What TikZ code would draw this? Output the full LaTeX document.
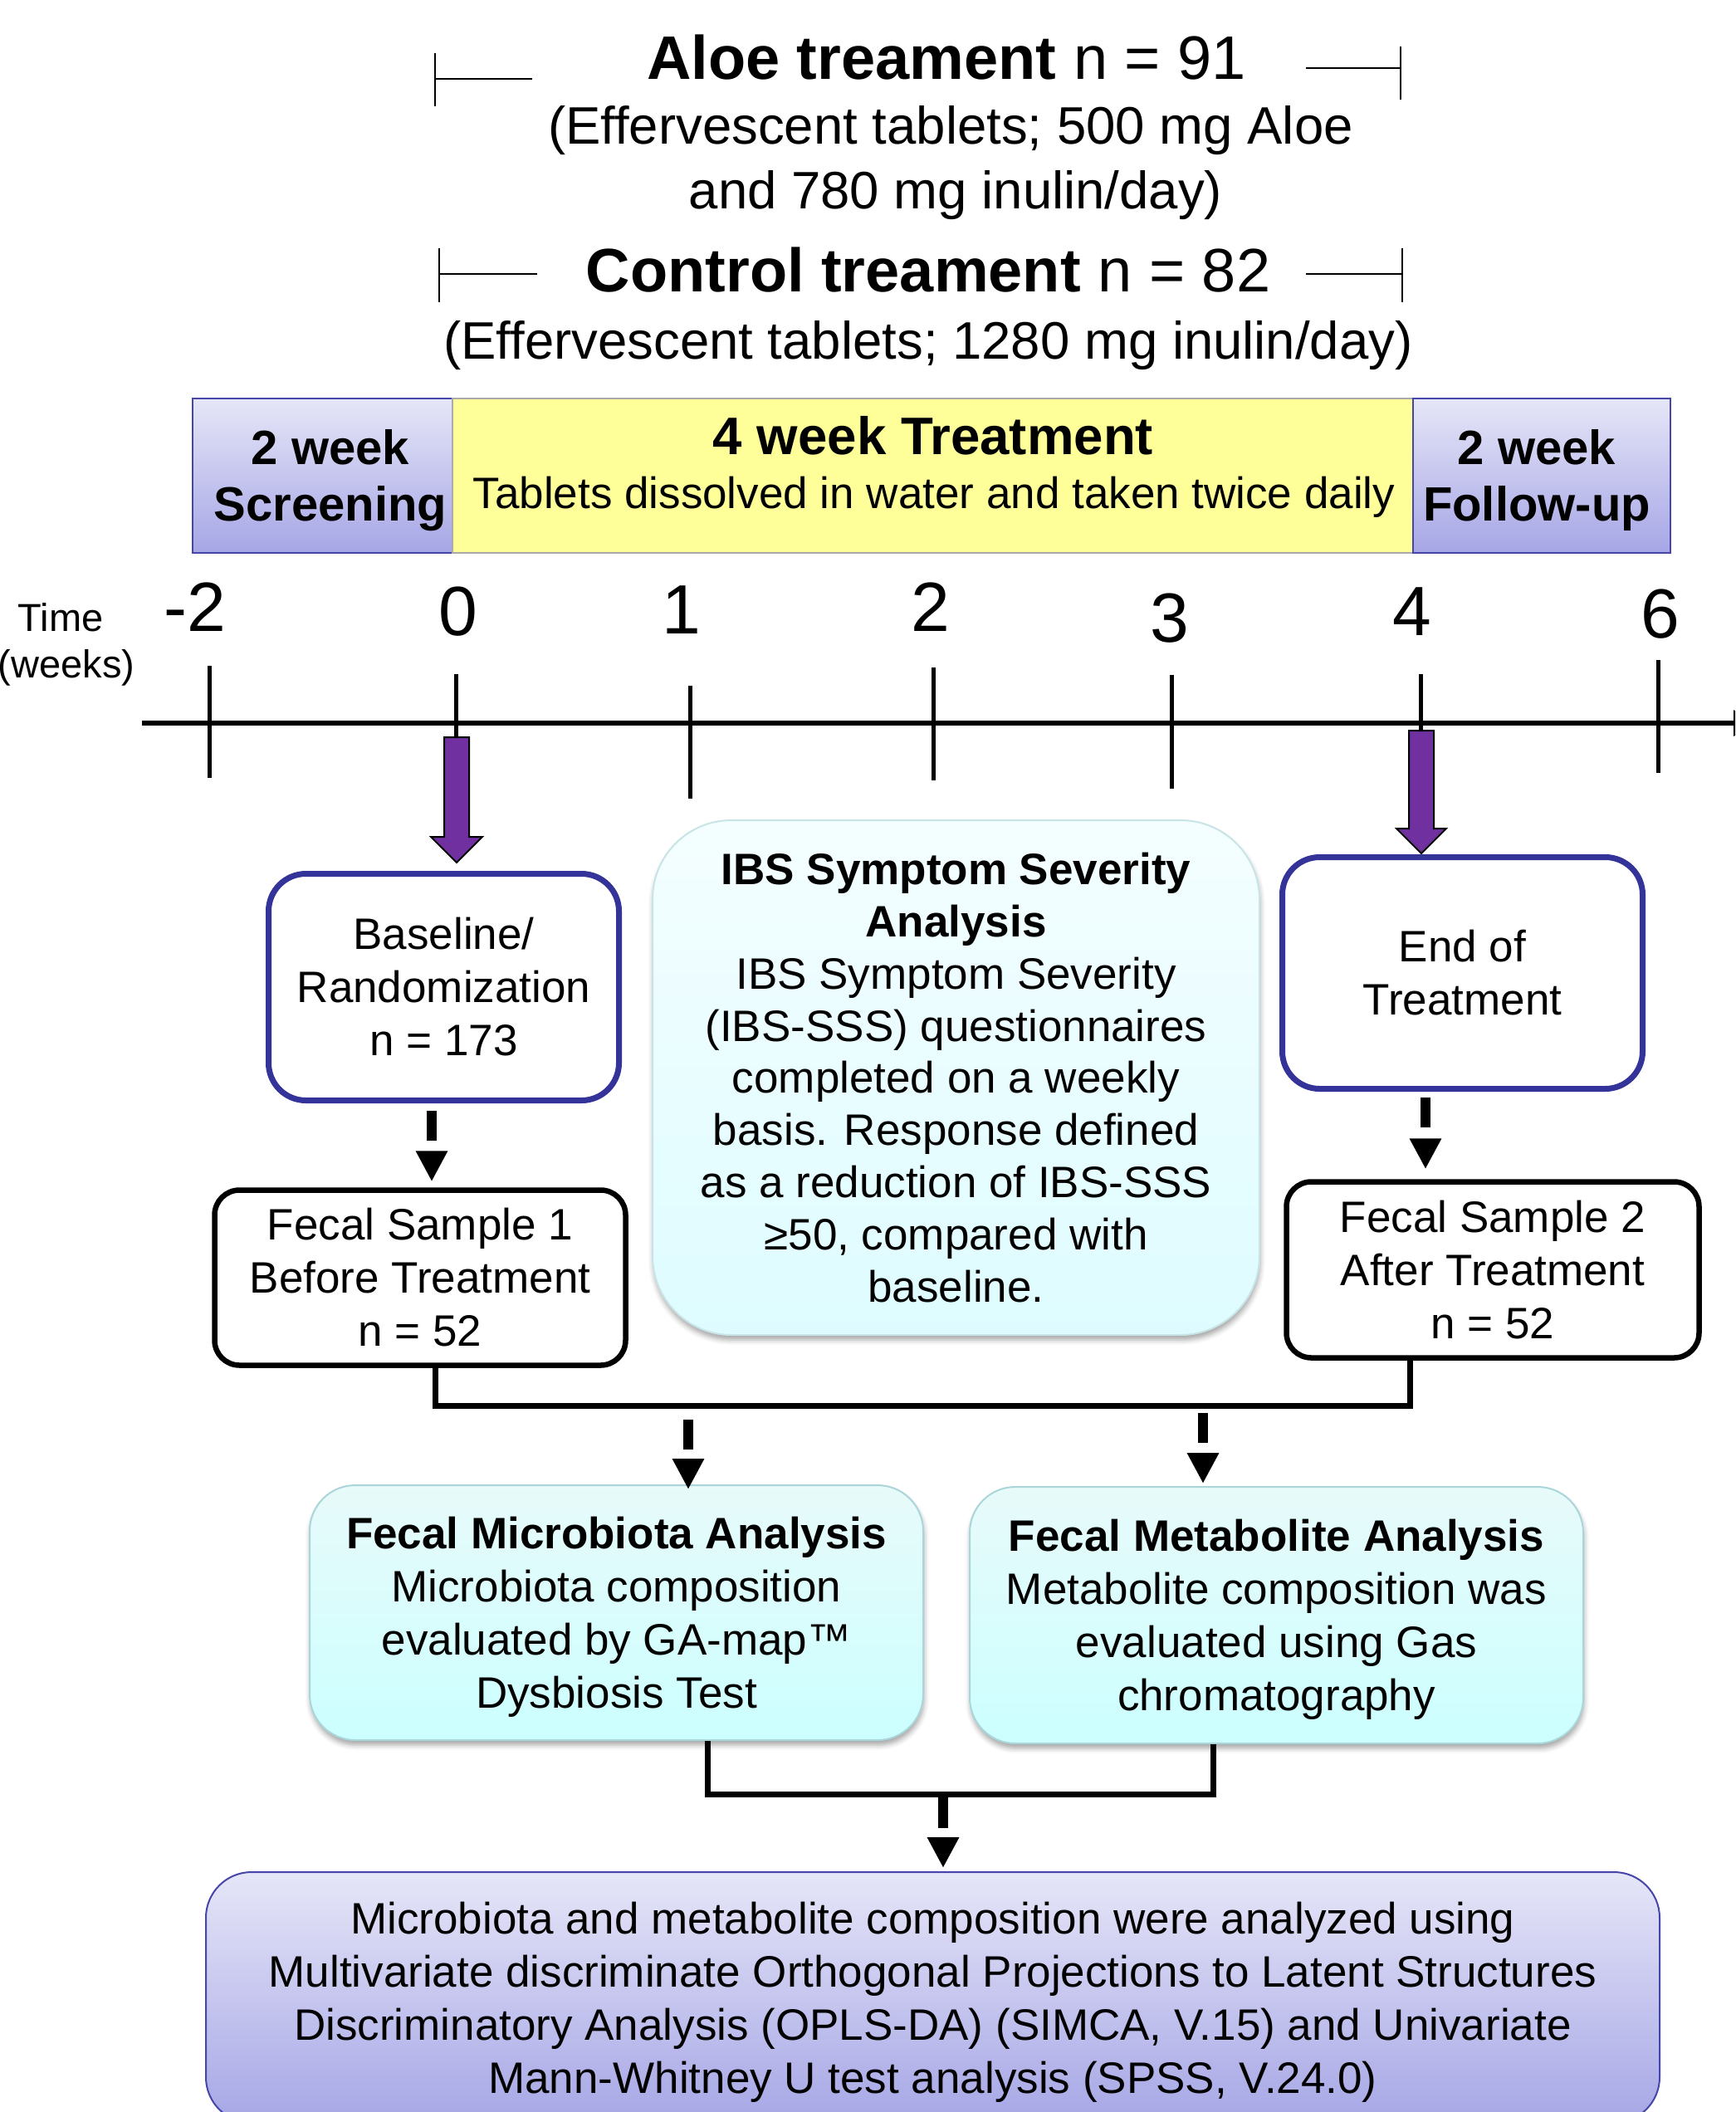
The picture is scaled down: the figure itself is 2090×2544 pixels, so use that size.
\documentclass[tikz,border=0pt]{standalone}
\usepackage{fontspec}
\setmainfont{Liberation Sans}
\usetikzlibrary{arrows.meta,shadows.blur,calc}
\definecolor{lavtop}{RGB}{230,230,248}
\definecolor{lavbot}{RGB}{166,166,230}
\definecolor{lavline}{RGB}{70,70,170}
\definecolor{yel}{RGB}{255,255,153}
\definecolor{yelline}{RGB}{170,170,170}
\definecolor{navy}{RGB}{51,51,153}
\definecolor{purp}{RGB}{112,48,160}
\definecolor{ibstop}{RGB}{244,254,255}
\definecolor{ibsbot}{RGB}{222,252,255}
\definecolor{ibsline}{RGB}{200,228,230}
\definecolor{cytop}{RGB}{232,250,250}
\definecolor{cybot}{RGB}{204,255,255}
\definecolor{cyline}{RGB}{170,214,218}
\newcommand\fsz[2]{\fontsize{#1}{#2}\selectfont}
\tikzset{
  lavbox/.style={draw=lavline, line width=1pt, top color=lavtop, bottom color=lavbot, inner sep=0pt},
  yelbox/.style={draw=yelline, line width=1pt, fill=yel, inner sep=0pt},
  navybox/.style={draw=navy, line width=3.5pt, rounded corners=22.5pt, fill=white, align=center, font=\fsz{26.5pt}{32pt}, inner sep=0pt},
  blackbox/.style={draw=black, line width=3.25pt, rounded corners=15pt, fill=white, align=center, font=\fsz{26.5pt}{32pt}, inner sep=0pt},
  ibsbox/.style={draw=ibsline, line width=1pt, top color=ibstop, bottom color=ibsbot, rounded corners=47.5pt, align=center, font=\fsz{26.5pt}{31.4pt}, inner sep=0pt, blur shadow={shadow xshift=0.5pt, shadow yshift=-3pt, shadow blur radius=3pt, shadow opacity=35}},
  cybox/.style={draw=cyline, line width=1pt, top color=cytop, bottom color=cybot, rounded corners=27.5pt, align=center, font=\fsz{26.5pt}{32pt}, inner sep=0pt, blur shadow={shadow xshift=0.5pt, shadow yshift=-3pt, shadow blur radius=3pt, shadow opacity=35}},
  finbox/.style={draw=lavline, line width=1pt, top color=lavtop, bottom color=lavbot, rounded corners=27.5pt, align=center, font=\fsz{26.5pt}{32pt}, inner sep=0pt},
  purparrow/.style={fill=purp, draw=black, line width=1pt, line join=miter},
  dasharr/.style={line width=5.75pt, dash pattern=on 18pt off 200pt, -{Triangle[length=18.5pt,width=18pt]}},
  brk/.style={line width=3.5pt, line join=miter},
  tick/.style={line width=2.5pt},
  thin/.style={line width=1.2pt},
  toptext/.style={anchor=base, font=\fsz{37pt}{44pt}},
  subtext/.style={anchor=base, font=\fsz{31.75pt}{38pt}},
  bantext/.style={anchor=base, font=\fsz{29pt}{34pt}\bfseries},
  ticklab/.style={anchor=base, font=\fsz{42pt}{50pt}},
  timelab/.style={anchor=base, font=\fsz{23.5pt}{28pt}}
}
\begin{document}
\begin{tikzpicture}[x=0.5pt,y=-0.5pt]
\useasboundingbox (0,0) rectangle (2090,2544);
\clip (0,0) rectangle (2090,2544);

% ---- top treatment texts
\node[toptext] (aloe) at (1140,95) {\textbf{Aloe treament} n = 91};
\node[subtext] (aloe2) at (1145,173) {(Effervescent tablets; 500 mg Aloe};
\node[subtext] (aloe3) at (1151,251) {and 780 mg inulin/day)};
\node[toptext] (ctrl) at (1118,351) {\textbf{Control treament} n = 82};
\node[subtext] (ctrl2) at (1118,432) {(Effervescent tablets; 1280 mg inulin/day)};
% brackets
\draw[thin] (524,64) -- (524,128);
\draw[thin] (524,95) -- (641,95);
\draw[thin] (1573,82) -- (1687,82);
\draw[thin] (1687,56) -- (1687,120);
\draw[thin] (529,299) -- (529,364);
\draw[thin] (529,330) -- (647,330);
\draw[thin] (1573,330) -- (1689,330);
\draw[thin] (1689,299) -- (1689,364);

% ---- banner
\node[lavbox, minimum width=156.5pt, minimum height=93pt] (scr) at (388.5,573) {};
\node[yelbox, minimum width=578.5pt, minimum height=93pt] (trt) at (1123.5,573) {};
\node[lavbox, minimum width=155pt, minimum height=93pt] (fup) at (1857,573) {};
\node[bantext] (scr1) at (398,559) {2 week};
\node[bantext] (scr2) at (398,627) {Screening};
\node[anchor=base, font=\fsz{31.8pt}{38pt}\bfseries] (trt1) at (1124,547) {4 week Treatment};
\node[anchor=base, font=\fsz{26.5pt}{32pt}] (trt2) at (1125,612) {Tablets dissolved in water and taken twice daily};
\node[bantext] (fup1) at (1851,559) {2 week};
\node[bantext] (fup2) at (1851,627) {Follow-up};

% ---- time axis
\node[timelab] (time1) at (73,760) {Time};
\node[timelab] (time2) at (80,816) {(weeks)};
\node[ticklab] (lm2) at (235,760) {-2};
\node[ticklab] (l0) at (552,765) {0};
\node[ticklab] (l1) at (821,763) {1};
\node[ticklab] (l2) at (1121,760) {2};
\node[ticklab] (l3) at (1409,773) {3};
\node[ticklab] (l4) at (1701,765) {4};
\node[ticklab] (l6) at (2000,768) {6};
\draw[tick] (252,802) -- (252,937);
\draw[tick] (549,812) -- (549,890);
\draw[tick] (831,826) -- (831,962);
\draw[tick] (1124,804) -- (1124,940);
\draw[tick] (1411,813) -- (1411,950);
\draw[tick] (1711,812) -- (1711,882);
\draw[tick] (1997,795) -- (1997,931);
\coordinate (ax0) at (171,871);
\coordinate (ax1) at (2118,871);
\draw[line width=3pt, -{Triangle[length=15pt,width=15pt]}] (ax0) -- (ax1);

% ---- purple arrows
\draw[purparrow, shift={(550,888)}] (-15,0) -- (15,0) -- (15,120) -- (31,120) -- (0,151) -- (-31,120) -- (-15,120) -- cycle;
\draw[purparrow, shift={(1712,880)}] (-15,0) -- (15,0) -- (15,118) -- (30,118) -- (0,148) -- (-30,118) -- (-15,118) -- cycle;

% ---- boxes
\node[navybox, minimum width=211pt, minimum height=136.5pt] (base) at (534.5,1189) {Baseline/\\Randomization\\n = 173};
\node[navybox, minimum width=217pt, minimum height=139.5pt] (eot) at (1761.5,1172) {End of\\Treatment};
\node[blackbox, minimum width=247.5pt, minimum height=105.5pt] (fs1) at (506,1539) {Fecal Sample 1\\Before Treatment\\n = 52};
\node[blackbox, minimum width=248.5pt, minimum height=106pt] (fs2) at (1798,1529.5) {Fecal Sample 2\\After Treatment\\n = 52};
\node[ibsbox, minimum width=365.5pt, minimum height=310pt] (ibs) at (1151.5,1298) {\textbf{IBS Symptom Severity}\\\textbf{Analysis}\\IBS Symptom Severity\\(IBS-SSS) questionnaires\\completed on a weekly\\basis. Response defined\\as a reduction of IBS-SSS\\≥50, compared with\\baseline.};
\node[cybox, minimum width=369.5pt, minimum height=153.5pt] (mic) at (742.5,1942.5) {\textbf{Fecal Microbiota Analysis}\\Microbiota composition\\evaluated by GA-map™\\\smash{Dysbiosis Test}};
\node[cybox, minimum width=369.5pt, minimum height=154.5pt] (met) at (1537.5,1945.5) {\textbf{Fecal Metabolite Analysis}\\Metabolite composition was\\evaluated using Gas\\\smash{chromatography}};
\node[finbox, minimum width=875.5pt, minimum height=151pt] (fin) at (1123.5,2406) {Microbiota and metabolite composition were analyzed using\\Multivariate discriminate Orthogonal Projections to Latent Structures\\Discriminatory Analysis (OPLS-DA) (SIMCA, V.15) and Univariate\\\smash{Mann-Whitney U test analysis (SPSS, V.24.0)}};

% ---- connectors
\coordinate (dx1) at (520,0);
\coordinate (dx2) at (1717,0);
\draw[dasharr, shorten <=4.5pt, shorten >=3.5pt] (base.south -| dx1) -- (fs1.north -| dx1);
\draw[dasharr, shorten <=3.5pt, shorten >=6pt] (eot.south -| dx2) -- (fs2.north -| dx2);

\coordinate (b1l) at (524,1693);
\coordinate (b1r) at (1698,1693);
\draw[brk] (fs1.south -| b1l) -- (b1l) -- (b1r) -- (fs2.south -| b1r);
\coordinate (j1) at (829,1696);
\coordinate (j2) at (1449,1696);
\draw[dasharr, shorten <=7pt, shorten >=-3pt] (j1) -- (mic.north -| j1);
\draw[dasharr, shorten <=3pt, shorten >=1.5pt] (j2) -- (met.north -| j2);

\coordinate (b2l) at (852,2161);
\coordinate (b2r) at (1461,2161);
\draw[brk] (mic.south -| b2l) -- (b2l) -- (b2r) -- (met.south -| b2r);
\coordinate (j3) at (1136,2161);
\draw[dasharr, dash pattern=on 20.5pt off 200pt, shorten >=2pt] (j3) -- (fin.north -| j3);
\end{tikzpicture}
\end{document}
